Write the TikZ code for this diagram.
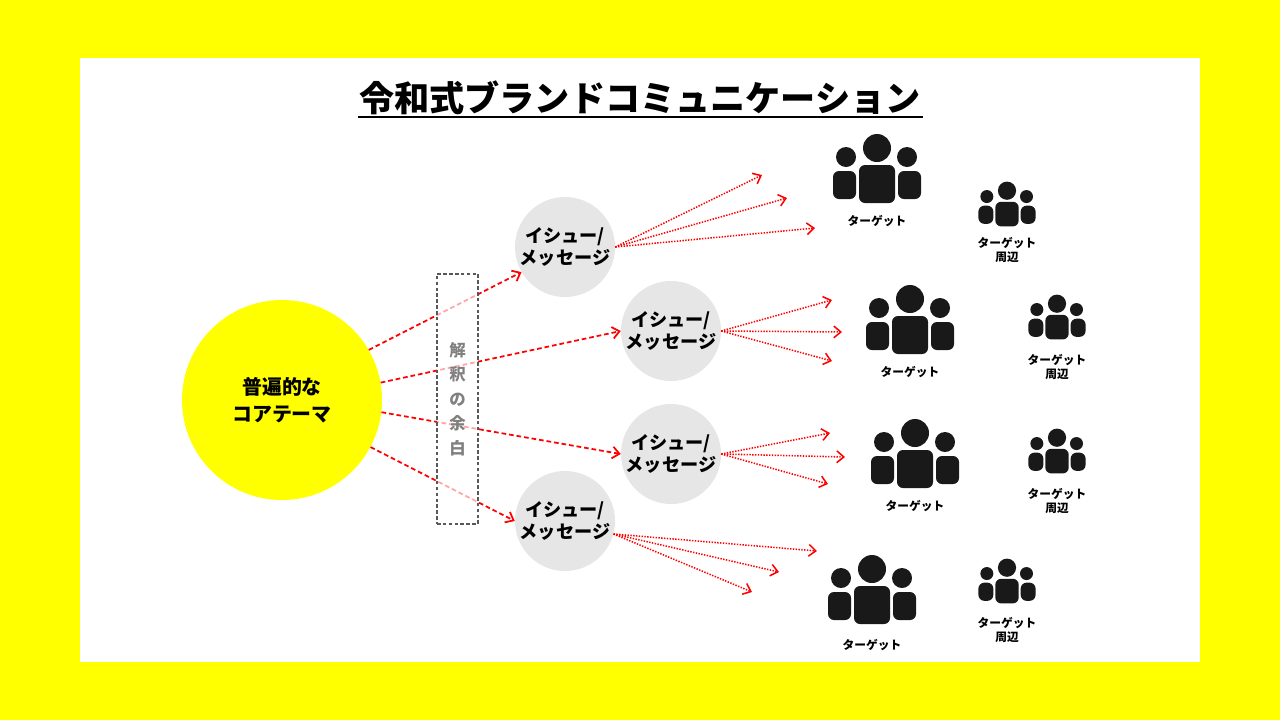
\documentclass[tikz,border=0pt]{standalone}
\usepackage{fontspec}
\setmainfont{Noto Sans CJK JP}
\usetikzlibrary{arrows.meta}
\definecolor{brightyellow}{RGB}{255,255,0}
\definecolor{issuegray}{RGB}{230,230,230}
\tikzset{
  issue/.style={circle,fill=issuegray,minimum size=100\unit,inner sep=0pt,align=center,font=\fontsize{15.5}{19}\selectfont\bfseries},
  core/.style={circle,fill=brightyellow,minimum size=200\unit,inner sep=0pt,align=center,font=\fontsize{17}{23}\selectfont\bfseries},
  main/.style={red,dash pattern=on 4pt off 2.5pt,line width=1.5pt,-{Straight Barb[length=6pt,width=10pt]}},
  sub/.style={red,dash pattern=on 1.2pt off 1.2pt,line width=1.3pt,-{Straight Barb[length=6pt,width=10pt]}},
  lbl/.style={font=\fontsize{10}{12}\selectfont\bfseries,align=center},
  people/.pic={
    \fill (0,-22) circle (14);
    \fill (-31,-13) circle (10);
    \fill (30,-13) circle (10);
    \fill[rounded corners=6\unit] (-18,-5) rectangle (18,33);
    \fill[rounded corners=6\unit] (-44,1) rectangle (-21,29);
    \fill[rounded corners=6\unit] (21,1) rectangle (44,29);
  }
}
\newlength\unit
\setlength\unit{0.03cm}
\begin{document}
\begin{tikzpicture}[x=0.03cm,y=-0.03cm]
  \fill[brightyellow] (0,0) rectangle (1280,720);
  \fill[white] (80,58) rectangle (1200,662);

  % title
  \node[font=\fontsize{30}{36}\selectfont\bfseries] (title) at (640,98) {令和式ブランドコミュニケーション};
  \draw[line width=1.5pt] (358,117) -- (923,117);

  % core and issues
  \node[core] (core) at (282,400) {普遍的な\\コアテーマ};
  \node[issue] (i1) at (565,247) {イシュー/\\メッセージ};
  \node[issue] (i2) at (671,331) {イシュー/\\メッセージ};
  \node[issue] (i3) at (671,454) {イシュー/\\メッセージ};
  \node[issue] (i4) at (565,521) {イシュー/\\メッセージ};

  \draw[main] (core.30) -- (i1.210);
  \draw[main] (core.10) -- (i2.180);
  \draw[main] (core.-7) -- (i3.180);
  \draw[main] (core.-28) -- (i4.180);

  % margin of interpretation
  \node[draw=black!65,dash pattern=on 3pt off 2pt,line width=1.2pt,fill=white,fill opacity=0.65,draw opacity=1,
        minimum width=41\unit,minimum height=250\unit] (gap) at (457.5,399) {};
  \node[text=black!50,font=\fontsize{14}{21}\selectfont\bfseries,align=center] (gaptext) at (gap) {解\\釈\\の\\余\\白};

  % target arrows
  \coordinate (a1) at (762,175); \coordinate (a2) at (787,198); \coordinate (a3) at (815,228);
  \coordinate (b1) at (832,300); \coordinate (b2) at (842,332); \coordinate (b3) at (832,361);
  \coordinate (c1) at (830,433); \coordinate (c2) at (845,457); \coordinate (c3) at (828,484);
  \coordinate (d1) at (817,551); \coordinate (d2) at (779,572); \coordinate (d3) at (752,592);
  \foreach \t in {a1,a2,a3} {\draw[sub] (i1.east) -- (\t);}
  \foreach \t in {b1,b2,b3} {\draw[sub] (i2.east) -- (\t);}
  \foreach \t in {c1,c2,c3} {\draw[sub] (i3.east) -- (\t);}
  \foreach \t in {d1,d2,d3} {\draw[sub] (i4.-15) -- (\t);}

  % targets
  \fill[black!90] (877,170) pic {people};
  \node[lbl] (t1) at (877,221) {ターゲット};
  \fill[black!90] (1007,205) pic[scale=0.65] {people};
  \node[lbl] (s1) at (1007,250) {ターゲット\\周辺};

  \fill[black!90] (910,321) pic {people};
  \node[lbl] (t2) at (910,372) {ターゲット};
  \fill[black!90] (1057,318) pic[scale=0.65] {people};
  \node[lbl] (s2) at (1057,367) {ターゲット\\周辺};

  \fill[black!90] (915,455) pic {people};
  \node[lbl] (t3) at (915,506) {ターゲット};
  \fill[black!90] (1057,452) pic[scale=0.65] {people};
  \node[lbl] (s3) at (1057,501) {ターゲット\\周辺};

  \fill[black!90] (872,591) pic {people};
  \node[lbl] (t4) at (872,645) {ターゲット};
  \fill[black!90] (1007,582) pic[scale=0.65] {people};
  \node[lbl] (s4) at (1007,630) {ターゲット\\周辺};
\end{tikzpicture}
\end{document}
